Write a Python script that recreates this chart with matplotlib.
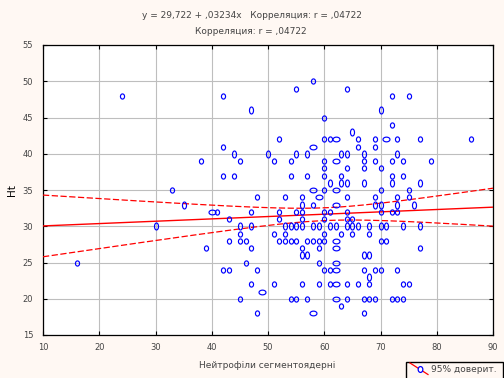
import numpy as np
import matplotlib
matplotlib.use("Agg")
import matplotlib.pyplot as plt
from matplotlib.path import Path
from matplotlib.lines import Line2D
from matplotlib.patches import Rectangle

# ---------------- data ----------------
# single observations
x_single = [58, 55, 64, 24, 42, 72, 75, 60, 72,
            52, 60, 61, 66, 69, 73, 77, 86,
            42, 66, 69,
            38, 45, 51, 54, 60, 67, 69, 72, 74, 79,
            60, 64, 67, 70,
            42, 44, 54, 57, 60, 63, 72, 74,
            33, 60, 70, 75,
            48, 53, 56, 64, 69, 73, 75,
            58,
            41, 47, 52, 55, 56, 60, 61, 64, 70, 72, 73,
            43, 52, 56, 60, 64, 65,
            45, 51, 53, 60, 63, 65, 68,
            43, 45, 46, 52, 53, 54, 55, 57, 58, 59, 60, 70, 71,
            39, 47, 56, 59, 77,
            16, 46, 59,
            42, 43, 48, 60, 61, 67, 69, 70, 73,
            47, 51, 56, 59, 61, 64, 66, 68, 74, 75,
            45, 54, 55, 57, 64, 67, 68, 69, 72, 73, 74,
            63,
            48, 67]
y_single = [50, 49, 49, 48, 48, 48, 48, 45, 44,
            42, 42, 42, 42, 42, 42, 42, 42,
            41, 41, 41,
            39, 39, 39, 39, 39, 39, 39, 39, 39, 39,
            38, 38, 38, 38,
            37, 37, 37, 37, 37, 37, 37, 37,
            35, 35, 35, 35,
            34, 34, 34, 34, 34, 34, 34,
            33,
            32, 32, 32, 32, 32, 32, 32, 32, 32, 32, 32,
            31, 31, 31, 31, 31, 31,
            29, 29, 29, 29, 29, 29, 29,
            28, 28, 28, 28, 28, 28, 28, 28, 28, 28, 28, 28, 28,
            27, 27, 27, 27, 27,
            25, 25, 25,
            24, 24, 24, 24, 24, 24, 24, 24, 24,
            22, 22, 22, 22, 22, 22, 22, 22, 22, 22,
            20, 20, 20, 20, 20, 20, 20, 20, 20, 20, 20,
            19,
            18, 18]

# pairs of observations drawn as tall ovals (same x)
x_tall = [47, 70, 65,
          44, 50, 55, 57, 63, 64, 67, 73,
          61, 63, 64, 67, 72, 77,
          35, 56, 69, 70, 73, 76,
          30, 45, 47, 53, 54, 55, 56, 58, 59, 61, 62, 64, 65, 66, 68, 70, 71, 74, 77,
          56, 57, 67, 68,
          68]
y_tall = [46, 46, 43,
          40, 40, 40, 40, 40, 40, 40, 40,
          36, 36, 36, 36, 36, 36,
          33, 33, 33, 33, 33, 33,
          30, 30, 30, 30, 30, 30, 30, 30, 30, 30, 30, 30, 30, 30, 30, 30, 30, 30, 30,
          26, 26, 26, 26,
          23]

# pairs of observations drawn as wide ovals (same y)
x_wide = [62, 71, 58, 62, 58, 62, 59, 62, 40, 62, 62, 62, 62, 62, 49, 62, 58]
y_wide = [42, 42, 41, 39, 35, 35, 34, 33, 32, 28, 27, 25, 24, 22, 21, 20, 18]

# regression printed in the title
intercept = 29.722
slope = 0.03234

title_line1 = "y = 29,722 + ,03234x   Корреляция: r = ,04722"
title_line2 = "Корреляция: r = ,04722"
x_label = "Нейтрофіли сегментоядерні"
y_label = "Ht"
legend_label = "95% доверит."
x_ticks = [10, 20, 30, 40, 50, 60, 70, 80, 90]
y_ticks = [15, 20, 25, 30, 35, 40, 45, 50, 55]

# ---------------- figure ----------------
BG = "#FFF8F3"
fig = plt.figure(figsize=(5.04, 3.78), dpi=100, facecolor=BG)
ax = fig.add_axes([43 / 504, 1 - 335 / 378, 450 / 504, 290 / 378])
ax.set_facecolor("white")
ax.set_xlim(10, 90)
ax.set_ylim(15, 55)

ax.grid(True, color="#BEBEBE", lw=0.8, zorder=0)
ax.set_axisbelow(True)
for s in ax.spines.values():
    s.set_color("black")
    s.set_linewidth(0.9)

ax.set_xticks(x_ticks)
ax.set_yticks(y_ticks)
ax.tick_params(direction="in", length=3, width=0.8, color="black",
               top=True, right=True, labelsize=6, labelcolor="#444444")
ax.tick_params(axis="x", pad=6)
ax.tick_params(axis="y", pad=7)


def ellipse_path(sx, sy):
    t = np.linspace(0, 2 * np.pi, 60)
    return Path(np.column_stack([sx * np.cos(t), sy * np.sin(t)]))


m_single = ellipse_path(0.8, 1.0)
m_tall = ellipse_path(0.58, 1.0)
m_wide = ellipse_path(1.0, 0.68)

# regression line and 95% band
xs_all = np.array(x_single + x_tall + x_tall + x_wide + x_wide, float)
ys_all = np.array(y_single + y_tall + y_tall + y_wide + y_wide, float)
n = len(xs_all)
xbar = xs_all.mean()
sxx = ((xs_all - xbar) ** 2).sum()
resid = ys_all - (intercept + slope * xs_all)
s = np.sqrt((resid ** 2).sum() / (n - 2))
xg = np.linspace(10, 90, 300)
yg = intercept + slope * xg
hw = 1.97 * s * np.sqrt(1 / n + (xg - xbar) ** 2 / sxx)

ax.plot(xg, yg, color="red", lw=1.0, zorder=3)
ax.plot(xg, yg + hw, color="red", lw=0.9, ls=(0, (5, 2)), zorder=3)
ax.plot(xg, yg - hw, color="red", lw=0.9, ls=(0, (5, 2)), zorder=3)

kw = dict(ls="none", mfc="none", mec="#0000FF", mew=0.85, zorder=4, clip_on=False)
ax.plot(x_single, y_single, marker=m_single, ms=3.7, **kw)
ax.plot(x_tall, y_tall, marker=m_tall, ms=5.0, **kw)
ax.plot(x_wide, y_wide, marker=m_wide, ms=5.0, **kw)

# labels
ax.set_ylabel(y_label, fontsize=7.5, color="black")
ax.yaxis.set_label_coords(-0.058, 0.5)
fig.text(267 / 504, 1 - 366 / 378, x_label, ha="center", va="center",
         fontsize=6.5, color="#444444")
fig.text(252 / 504, 1 - 15 / 378, title_line1, ha="center", va="center",
         fontsize=6.5, color="#444444")
fig.text(251 / 504, 1 - 31.5 / 378, title_line2, ha="center", va="center",
         fontsize=6.5, color="#444444")

# legend box (cut by the bottom edge as in the reference)
fig.patches.append(Rectangle((406 / 504, -0.02), 97 / 504, (378 - 361.5) / 378 + 0.02,
                             transform=fig.transFigure, fill=False,
                             edgecolor="black", lw=1.0))
fig.lines.append(Line2D([410 / 504, 428 / 504], [1 - 363 / 378, 1 - 374.5 / 378],
                        transform=fig.transFigure, color="red", lw=0.9))
fig.lines.append(Line2D([420 / 504], [1 - 369 / 378], transform=fig.transFigure,
                        marker=m_single, ms=4.2, mfc="white", mec="#0000FF", mew=0.9))
fig.text(431 / 504, 1 - 369 / 378, legend_label, ha="left", va="center",
         fontsize=6.5, color="#444444")

fig.savefig("out.png", dpi=100, facecolor=BG)
